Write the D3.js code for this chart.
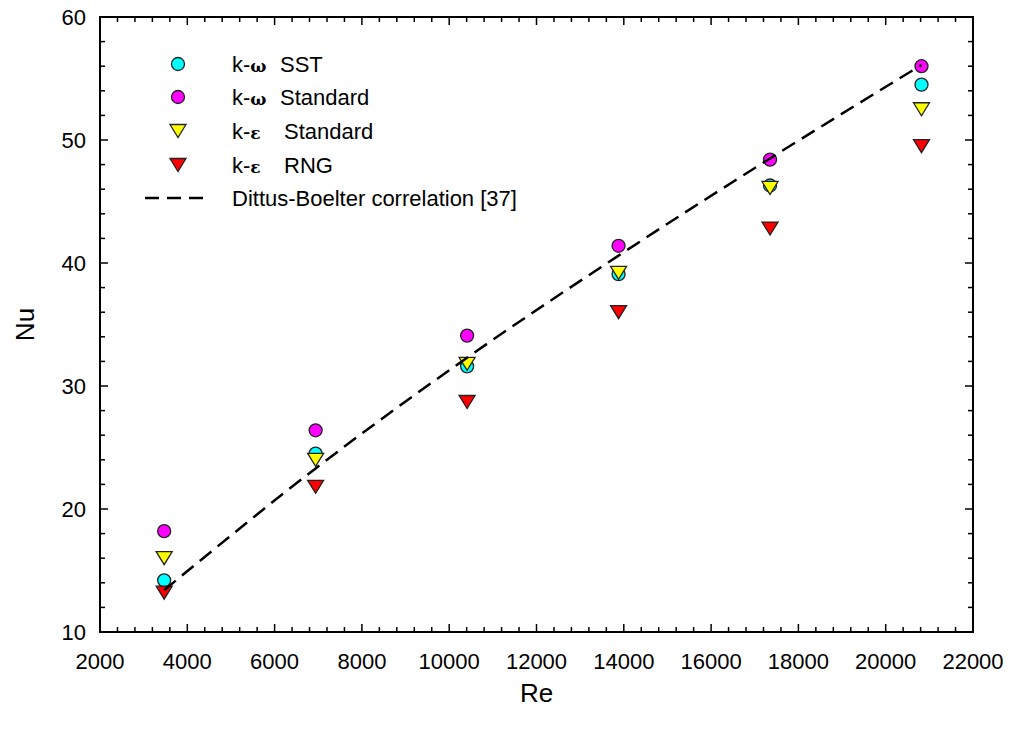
<!DOCTYPE html>
<html>
<head>
<meta charset="utf-8">
<script src="https://cdn.jsdelivr.net/npm/d3@7"></script>
<style>
  body { margin: 0; background: #fff; }
  text { font-family: Arial, "Liberation Sans", sans-serif; fill: #000; }
</style>
</head>
<body>
<div id="container"></div>
<script>
"use strict";

// data
const reValues = [3470, 6940, 10410, 13880, 17350, 20820];
const kwSST = [14.2, 24.5, 31.6, 39.1, 46.3, 54.5];
const kwStandard = [18.2, 26.4, 34.1, 41.4, 48.4, 56.0];
const keStandard = [16.0, 24.0, 31.8, 39.2, 46.1, 52.5];
const keRNG = [13.2, 21.8, 28.7, 36.0, 42.8, 49.5];
const dittusBoelter = [13.4, 23.3, 32.3, 40.6, 48.5, 56.1];

const xTicks = [2000, 4000, 6000, 8000, 10000, 12000, 14000, 16000, 18000, 20000, 22000];
const yTicks = [10, 20, 30, 40, 50, 60];

const width = 1010, height = 731;
const margin = {left: 100, right: 37, top: 17, bottom: 99};

const svg = d3.select("#container")
    .append("svg")
    .attr("width", width)
    .attr("height", height);

const x = d3.scaleLinear()
    .domain([2000, 22000])
    .range([margin.left, width - margin.right]);

const y = d3.scaleLinear()
    .domain([10, 60])
    .range([height - margin.bottom, margin.top]);

const x0 = x.range()[0], x1 = x.range()[1];
const y0 = y.range()[0], y1 = y.range()[1];

// minor tick values
const xMinor = d3.range(2000, 22001, 400).filter(v => v % 2000 !== 0);
const yMinor = d3.range(10, 61, 2).filter(v => v % 10 !== 0);

const majorLen = 8, minorLen = 5;

// SECTION: ticks on all four sides, pointing inward
function addTicks(g, axis, vals, len) {
    vals.forEach(v => {
        if (axis === "x") {
            g.append("line").attr("x1", x(v)).attr("x2", x(v)).attr("y1", y0).attr("y2", y0 - len);
            g.append("line").attr("x1", x(v)).attr("x2", x(v)).attr("y1", y1).attr("y2", y1 + len);
        } else {
            g.append("line").attr("y1", y(v)).attr("y2", y(v)).attr("x1", x0).attr("x2", x0 + len);
            g.append("line").attr("y1", y(v)).attr("y2", y(v)).attr("x1", x1).attr("x2", x1 - len);
        }
    });
}

const tickG = svg.append("g")
    .attr("stroke", "#000")
    .attr("stroke-width", 1.5);
addTicks(tickG, "x", xTicks, majorLen);
addTicks(tickG, "x", xMinor, minorLen);
addTicks(tickG, "y", yTicks, majorLen);
addTicks(tickG, "y", yMinor, minorLen);

// frame
svg.append("rect")
    .attr("x", x0)
    .attr("y", y1)
    .attr("width", x1 - x0)
    .attr("height", y0 - y1)
    .attr("fill", "none")
    .attr("stroke", "#000")
    .attr("stroke-width", 2);

// tick labels
svg.append("g")
    .selectAll("text")
    .data(xTicks)
    .enter()
    .append("text")
      .attr("x", d => x(d))
      .attr("y", y0 + 37)
      .attr("text-anchor", "middle")
      .style("font-size", "22px")
      .text(d => d);

svg.append("g")
    .selectAll("text")
    .data(yTicks)
    .enter()
    .append("text")
      .attr("x", x0 - 14)
      .attr("y", d => y(d))
      .attr("dy", "0.36em")
      .attr("text-anchor", "end")
      .style("font-size", "22px")
      .text(d => d);

// axis titles
svg.append("text")
    .attr("x", (x0 + x1) / 2)
    .attr("y", 702)
    .attr("text-anchor", "middle")
    .style("font-size", "26px")
    .text("Re");

svg.append("text")
    .attr("transform", `translate(34, ${(y0 + y1) / 2}) rotate(-90)`)
    .attr("text-anchor", "middle")
    .style("font-size", "26px")
    .text("Nu");

// SECTION: markers
const circleR = 6.5;
const triPath = "M-8,-6.5L8,-6.5L0,6.5Z";

const series = [
    {name: "SST", vals: kwSST, shape: "circle", color: "#00ffff"},
    {name: "kwStd", vals: kwStandard, shape: "circle", color: "#ff00ff"},
    {name: "keStd", vals: keStandard, shape: "tri", color: "#ffff00"},
    {name: "RNG", vals: keRNG, shape: "tri", color: "#ff0000"}
];

function drawMarker(g, shape, color, cx, cy) {
    if (shape === "circle") {
        g.append("circle")
          .attr("cx", cx).attr("cy", cy).attr("r", circleR)
          .attr("fill", color).attr("stroke", "#222").attr("stroke-width", 1.3);
    } else {
        g.append("path")
          .attr("d", triPath)
          .attr("transform", `translate(${cx},${cy})`)
          .attr("fill", color).attr("stroke", "#222").attr("stroke-width", 1.3)
          .attr("stroke-linejoin", "miter");
    }
}

const markG = svg.append("g");
series.forEach(s => {
    s.vals.forEach((v, i) => drawMarker(markG, s.shape, s.color, x(reValues[i]), y(v)));
});

// dashed correlation line
const line = d3.line()
    .x((d, i) => x(reValues[i]))
    .y(d => y(d))
    .curve(d3.curveMonotoneX);

svg.append("path")
    .datum(dittusBoelter)
    .attr("d", line)
    .attr("fill", "none")
    .attr("stroke", "#000")
    .attr("stroke-width", 2.5)
    .attr("stroke-dasharray", "15,8");

// SECTION: legend
const legendRows = [
    {shape: "circle", color: "#00ffff", greek: "\u03c9", rest: "SST", restX: 280},
    {shape: "circle", color: "#ff00ff", greek: "\u03c9", rest: "Standard", restX: 280},
    {shape: "tri", color: "#ffff00", greek: "\u03b5", rest: "Standard", restX: 284},
    {shape: "tri", color: "#ff0000", greek: "\u03b5", rest: "RNG", restX: 284}
];
const legY = [64, 97, 131, 165, 198];
const legG = svg.append("g");

legendRows.forEach((r, i) => {
    drawMarker(legG, r.shape, r.color, 178, legY[i]);
    const t = legG.append("text")
        .attr("x", 232)
        .attr("y", legY[i])
        .attr("dy", "0.36em")
        .style("font-size", "22px");
    t.append("tspan").text("k-");
    t.append("tspan")
        .style("font-family", "'DejaVu Serif', serif")
        .style("font-weight", "bold")
        .style("font-size", "17px")
        .text(r.greek);
    t.append("tspan").attr("x", r.restX).text(r.rest);
});

legG.append("line")
    .attr("x1", 145).attr("x2", 206)
    .attr("y1", legY[4]).attr("y2", legY[4])
    .attr("stroke", "#000")
    .attr("stroke-width", 2.5)
    .attr("stroke-dasharray", "14,8");

legG.append("text")
    .attr("x", 232)
    .attr("y", legY[4])
    .attr("dy", "0.36em")
    .style("font-size", "22px")
    .text("Dittus-Boelter correlation [37]");
</script>
</body>
</html>
